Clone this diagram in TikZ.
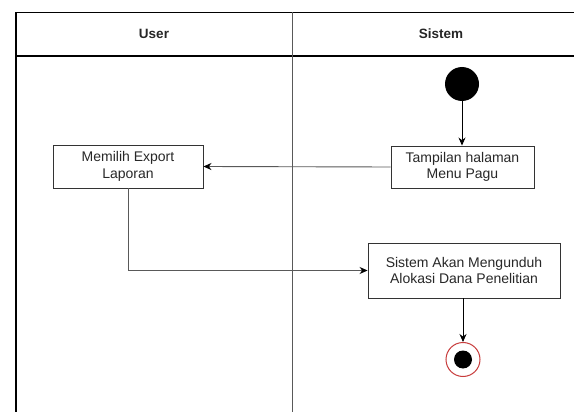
\documentclass[tikz,border=0pt]{standalone}
\usepackage{fontspec}
\setmainfont{Liberation Sans}
\usetikzlibrary{arrows.meta}
\definecolor{txtgray}{RGB}{40,40,40}
\definecolor{endred}{RGB}{200,60,60}
\tikzset{
  lane/.style={line width=1.3pt, black},
  divider/.style={line width=1pt, black!65},
  action/.style={draw=black!80, line width=0.9pt, fill=white, text=txtgray,
    align=center, font=\fontsize{14}{16.5}\selectfont, inner sep=0pt},
  head/.style={font=\bfseries\fontsize{13.5}{15}\selectfont, text=black!85},
  flow/.style={line width=0.9pt, black, -{Stealth[length=8pt,width=7pt]}},
  flowgray/.style={line width=0.9pt, black!65, -{Stealth[length=8pt,width=7pt,color=black]}},
}
\begin{document}
\begin{tikzpicture}[x=1pt,y=-1pt]
  \useasboundingbox (0,0) rectangle (574,412);
  \fill[white] (0,0) rectangle (574,412);

  % swimlane frame
  \draw[lane] (574,12.5) -- (16,12.5) -- (16,412);
  \draw[lane] (16,56) -- (574,56);
  \draw[divider] (292,12.5) -- (292,412);
  \node[head] (hUser) at (154,34) {User};
  \node[head] (hSistem) at (441,34) {Sistem};

  % start and end
  \node[circle, fill=black, minimum size=34pt, inner sep=0pt] (start) at (462,84) {};
  \node[circle, draw=endred, line width=1pt, fill=white, minimum size=34pt, inner sep=0pt] (stop) at (463,359.5) {};
  \fill[black] (stop.center) circle (9);

  % actions
  \node[action, minimum width=143pt, minimum height=42pt] (tampil) at (462.5,167) {Tampilan halaman\\Menu Pagu};
  \node[action, minimum width=150pt, minimum height=43pt] (pilih) at (128,166.5) {Memilih Export\\Laporan};
  \node[action, minimum width=192pt, minimum height=55pt] (unduh) at (464,270.5) {Sistem Akan Mengunduh\\Alokasi Dana Penelitian};

  % control flow
  \draw[flow] (start) -- (tampil.north -| start);
  \draw[flowgray] (tampil.west) -- (pilih.east);
  \draw[flowgray] (pilih.south) |- (unduh.west);
  \draw[flow] (unduh.south -| stop) -- (stop.north);
\end{tikzpicture}
\end{document}
